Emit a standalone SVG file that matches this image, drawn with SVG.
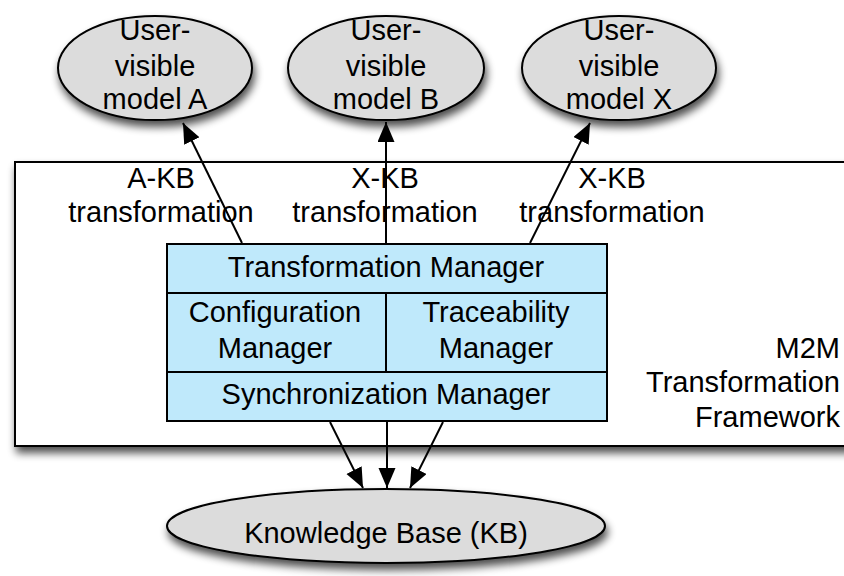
<svg xmlns="http://www.w3.org/2000/svg" width="844" height="576" viewBox="0 0 844 576">
<defs>
<filter id="sh" x="-20%" y="-20%" width="150%" height="160%">
<feGaussianBlur in="SourceAlpha" stdDeviation="4"/>
<feOffset dx="2" dy="6" result="b"/>
<feComponentTransfer><feFuncA type="linear" slope="0.7"/></feComponentTransfer>
<feMerge><feMergeNode/><feMergeNode in="SourceGraphic"/></feMerge>
</filter>
<marker id="ah" markerUnits="userSpaceOnUse" markerWidth="22" markerHeight="18" refX="20" refY="8.5" orient="auto">
<path d="M0,0 L20,8.5 L0,17 z" fill="#000"/>
</marker>
<style>
text{font-family:"Liberation Sans",Arial,sans-serif;font-size:29px;fill:#000;text-anchor:middle}
.ell{fill:#dcdcdc;stroke:#000;stroke-width:2}
.box{fill:#bfe9fb;stroke:#000;stroke-width:2}
.con{stroke:#000;stroke-width:2;fill:none;marker-end:url(#ah)}
</style>
</defs>
<rect width="844" height="576" fill="#fff"/>
<g id="framework">
<rect x="15" y="162" width="840" height="284" fill="#fff" stroke="#000" stroke-width="2" filter="url(#sh)"/>
<text x="840" y="358" style="text-anchor:end">M2M</text>
<text x="840" y="392" style="text-anchor:end">Transformation</text>
<text x="840" y="427" style="text-anchor:end">Framework</text>
</g>
<g id="modelA">
<ellipse class="ell" cx="155" cy="68" rx="97" ry="52" filter="url(#sh)"/>
<text x="155" y="40">User-</text>
<text x="155" y="76">visible</text>
<text x="155" y="109">model A</text>
</g>
<g id="modelB">
<ellipse class="ell" cx="386" cy="68" rx="98" ry="52" filter="url(#sh)"/>
<text x="386" y="40">User-</text>
<text x="386" y="76">visible</text>
<text x="386" y="109">model B</text>
</g>
<g id="modelX">
<ellipse class="ell" cx="619" cy="68" rx="97" ry="52" filter="url(#sh)"/>
<text x="619" y="40">User-</text>
<text x="619" y="76">visible</text>
<text x="619" y="109">model X</text>
</g>
<g id="labels">
<text x="161" y="188">A-KB</text>
<text x="161" y="222">transformation</text>
<text x="385" y="188">X-KB</text>
<text x="385" y="222">transformation</text>
<text x="612" y="188">X-KB</text>
<text x="612" y="222">transformation</text>
</g>
<g id="transformationManager">
<rect class="box" x="167" y="244" width="440" height="49"/>
<text x="386" y="277">Transformation Manager</text>
</g>
<g id="configurationManager">
<rect class="box" x="167" y="293" width="219" height="79"/>
<text x="275" y="322">Configuration</text>
<text x="275" y="358">Manager</text>
</g>
<g id="traceabilityManager">
<rect class="box" x="386" y="293" width="221" height="79"/>
<text x="496" y="322">Traceability</text>
<text x="496" y="358">Manager</text>
</g>
<g id="synchronizationManager">
<rect class="box" x="167" y="372" width="440" height="49"/>
<text x="386" y="404">Synchronization Manager</text>
</g>
<g id="kb">
<ellipse class="ell" cx="386" cy="526" rx="219" ry="37" filter="url(#sh)"/>
<text x="386" y="543">Knowledge Base (KB)</text>
</g>
<g id="connectors">
<line class="con" x1="242" y1="243" x2="183" y2="123"/>
<line class="con" x1="386" y1="243" x2="386" y2="122"/>
<line class="con" x1="530" y1="243" x2="590" y2="123"/>
<line class="con" x1="330" y1="422" x2="363" y2="488"/>
<line class="con" x1="387" y1="422" x2="387" y2="488"/>
<line class="con" x1="443" y1="422" x2="410" y2="488"/>
</g>
</svg>
